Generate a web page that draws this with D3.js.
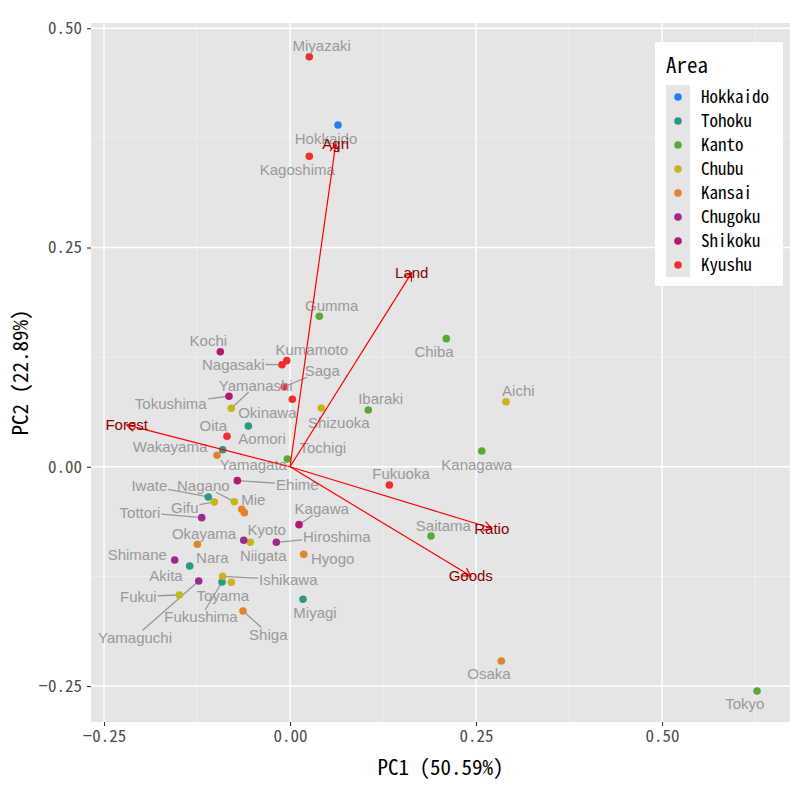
<!DOCTYPE html>
<html><head><meta charset="utf-8">
<script src="https://cdn.jsdelivr.net/npm/d3@7"></script>
<style>body{margin:0;background:#fff}</style>
</head><body><svg id="c" width="800" height="800"></svg>
<script>
// ---------- data ----------
const prefectures = ["Hokkaido","Aomori","Iwate","Miyagi","Akita","Yamagata","Fukushima","Ibaraki","Tochigi","Gumma","Saitama","Chiba","Tokyo","Kanagawa","Niigata","Toyama","Ishikawa","Fukui","Yamanashi","Nagano","Gifu","Shizuoka","Aichi","Mie","Shiga","Kyoto","Osaka","Hyogo","Nara","Wakayama","Tottori","Shimane","Okayama","Hiroshima","Yamaguchi","Tokushima","Kagawa","Ehime","Kochi","Fukuoka","Saga","Nagasaki","Kumamoto","Oita","Miyazaki","Kagoshima","Okinawa"];
const areas = ["Hokkaido","Tohoku","Tohoku","Tohoku","Tohoku","Tohoku","Tohoku","Kanto","Kanto","Kanto","Kanto","Kanto","Kanto","Kanto","Chubu","Chubu","Chubu","Chubu","Chubu","Chubu","Chubu","Chubu","Chubu","Kansai","Kansai","Kansai","Kansai","Kansai","Kansai","Kansai","Chugoku","Chugoku","Chugoku","Chugoku","Chugoku","Shikoku","Shikoku","Shikoku","Shikoku","Kyushu","Kyushu","Kyushu","Kyushu","Kyushu","Kyushu","Kyushu","Kyushu"];
const pc1 = [0.0645,-0.0560,-0.1098,0.0175,-0.1348,-0.0905,-0.0914,0.1052,-0.0036,0.0394,0.1895,0.2101,0.6277,0.2577,-0.0534,-0.0789,-0.0905,-0.1488,-0.0789,-0.0749,-0.1017,0.0421,0.2903,-0.0649,-0.0632,-0.0614,0.2840,0.0184,-0.1246,-0.0981,-0.1187,-0.1550,-0.0622,-0.0184,-0.1227,-0.0820,0.0121,-0.0708,-0.0937,0.1335,-0.0077,-0.0108,-0.0044,-0.0847,0.0259,0.0259,0.0031];
const pc2 = [0.3897,0.0465,-0.0344,-0.1511,-0.1131,0.0195,-0.1314,0.0648,0.0089,0.1716,-0.0789,0.1461,-0.2556,0.0180,-0.0861,-0.1317,-0.1249,-0.1462,0.0667,-0.0398,-0.0401,0.0670,0.0742,-0.0485,-0.1644,-0.0523,-0.2214,-0.0998,-0.0884,0.0131,-0.0580,-0.1063,-0.0838,-0.0861,-0.1302,0.0804,-0.0660,-0.0158,0.1312,-0.0208,0.0913,0.1164,0.1210,0.0348,0.4676,0.3540,0.0770];

const areaLevels = ["Hokkaido","Tohoku","Kanto","Chubu","Kansai","Chugoku","Shikoku","Kyushu"];
const areaColors = ["#2081F0","#2A9A86","#58AA34","#C8B41E","#E0852A","#A0298E","#B21A70","#F02E2C"];

const variables = ["Agri","Land","Forest","Ratio","Goods"];
const loadX = [0.0614,0.1636,-0.2195,0.2711,0.2429];
const loadY = [0.3681,0.2213,0.0477,-0.0701,-0.1245];

const xTicks = [-0.25,0,0.25,0.5];
const yTicks = [-0.25,0,0.25,0.5];
const xMinor = [-0.125,0.125,0.375,0.625];
const yMinor = [-0.125,0.125,0.375];
const xTitle = "PC1 (50.59%)";
const yTitle = "PC2 (22.89%)";
const legendTitle = "Area";

// label placement (repelled positions, pixel offsets from the point)
const labelOffsets = {
 Hokkaido:[-12,14],Aomori:[13.7,12.7],Iwate:[-59,-11],Miyagi:[12,13],Akita:[-23.7,10],Yamagata:[30.6,14.6],
 Fukushima:[-21,34.7],Ibaraki:[12.4,-11.3],Tochigi:[35.4,-11.3],Gumma:[12.4,-11],Saitama:[12.3,-10.7],
 Chiba:[-12.3,13],Tokyo:[-12.3,13],Kanagawa:[-5,14],Niigata:[13,13.7],Toyama:[-8.6,13.7],Ishikawa:[65.6,3.7],
 Fukui:[-41,1.7],Yamanashi:[24.4,-22.6],Nagano:[-31,-15.7],Gifu:[-29.6,5.7],Shizuoka:[17.4,15],Aichi:[12.3,-11],
 Mie:[11.6,-10],Shiga:[25.3,23.3],Kyoto:[22.4,17.3],Osaka:[-12.3,13],Hyogo:[29,4],Nara:[15,13.4],
 Wakayama:[-47,-8.6],Tottori:[-61.7,-5],Shimane:[-37.4,-5],Okayama:[-39.7,-7],Hiroshima:[60.4,-5.6],
 Yamaguchi:[-63.7,56.3],Tokushima:[-58.3,7.4],Kagawa:[22.7,-15.7],Ehime:[60,4.3],Kochi:[-12,-10.7],
 Fukuoka:[11.7,-11],Saga:[38,-15.7],Nagasaki:[-48.7,-0.4],Kumamoto:[25,-10.7],Oita:[-13.7,-10.3],
 Miyazaki:[12.4,-10.7],Kagoshima:[-12,13.7],Okinawa:[-25,13.4]
};
const leaderLines = ["Kagawa","Hiroshima","Nagasaki","Saga","Tokushima","Yamanashi","Ehime","Iwate","Gifu","Nagano","Tottori","Ishikawa","Fukushima","Yamaguchi","Fukui","Shiga"];

// ---------- layout ----------
const P = {left:91, right:790, top:23, bottom:722};
const x = d3.scaleLinear().domain([-0.2675, 0.6720]).range([P.left, P.right]);
const y = d3.scaleLinear().domain([-0.2910, 0.5060]).range([P.bottom, P.top]);
const color = d3.scaleOrdinal().domain(areaLevels).range(areaColors);
const monoFont = "'Noto Sans Mono CJK JP','Noto Sans CJK JP',monospace";
const sansFont = "'Liberation Sans',Arial,sans-serif";

const svg = d3.select("#c");
svg.append("rect").attr("width",800).attr("height",800).attr("fill","#fff");
svg.append("rect").attr("x",P.left).attr("y",P.top).attr("width",P.right-P.left).attr("height",P.bottom-P.top).attr("fill","#E5E5E5");

const grid = svg.append("g");
grid.selectAll(".xm").data(xMinor).join("line").attr("x1",d=>x(d)).attr("x2",d=>x(d)).attr("y1",P.top).attr("y2",P.bottom).attr("stroke","#F2F2F2").attr("stroke-width",0.7);
grid.selectAll(".ym").data(yMinor).join("line").attr("class","ym").attr("y1",d=>y(d)).attr("y2",d=>y(d)).attr("x1",P.left).attr("x2",P.right).attr("stroke","#F2F2F2").attr("stroke-width",0.7);
grid.selectAll(".xg").data(xTicks).join("line").attr("class","xg").attr("x1",d=>x(d)).attr("x2",d=>x(d)).attr("y1",P.top).attr("y2",P.bottom).attr("stroke","#fff").attr("stroke-width",1.4);
grid.selectAll(".yg").data(yTicks).join("line").attr("class","yg").attr("y1",d=>y(d)).attr("y2",d=>y(d)).attr("x1",P.left).attr("x2",P.right).attr("stroke","#fff").attr("stroke-width",1.4);

// axes
const fmt = d3.format(".2f");
const xAxis = svg.append("g").attr("transform",`translate(0,${P.bottom})`)
  .call(d3.axisBottom(x).tickValues(xTicks).tickSize(4).tickPadding(4).tickFormat(d=>fmt(d).replace("-","\u2212")));
const yAxis = svg.append("g").attr("transform",`translate(${P.left},0)`)
  .call(d3.axisLeft(y).tickValues(yTicks).tickSize(4).tickPadding(5).tickFormat(d=>fmt(d).replace("-","\u2212")));
[xAxis,yAxis].forEach(a=>{
  a.select(".domain").remove();
  a.selectAll(".tick line").attr("stroke","#333").attr("stroke-width",1.1);
  a.selectAll(".tick text").attr("fill","#4D4D4D").style("font-family",monoFont).style("font-size","17px");
});

svg.append("text").attr("x",(P.left+P.right)/2).attr("y",775).attr("text-anchor","middle")
  .style("font-family",monoFont).style("font-size","21px").attr("fill","#000").text(xTitle);
svg.append("text").attr("transform",`translate(28,${(P.top+P.bottom)/2}) rotate(-90)`).attr("text-anchor","middle")
  .style("font-family",monoFont).style("font-size","21px").attr("fill","#000").text(yTitle);

// data rows
const rows = prefectures.map((n,i)=>({name:n, area:areas[i], px:x(pc1[i]), py:y(pc2[i])}));

const segG = svg.append("g");
const ptG = svg.append("g");
const lblG = svg.append("g");

ptG.selectAll("circle").data(rows).join("circle")
  .attr("cx",d=>d.px).attr("cy",d=>d.py).attr("r",3.8).attr("fill",d=>color(d.area));

const labels = lblG.selectAll("text").data(rows).join("text")
  .attr("x",d=>d.px+labelOffsets[d.name][0]).attr("y",d=>d.py+labelOffsets[d.name][1])
  .attr("dy","0.35em").attr("text-anchor","middle")
  .style("font-family",sansFont).style("font-size","15px").attr("fill","#999999").text(d=>d.name);

labels.each(function(d){
  if(!leaderLines.includes(d.name)) return;
  const b = this.getBBox();
  const cx = b.x+b.width/2, cy = b.y+b.height/2;
  const hw = b.width/2+1, hh = b.height/2-2;
  const dx = d.px-cx, dy = d.py-cy;
  const t = Math.min(dx!==0?hw/Math.abs(dx):Infinity, dy!==0?hh/Math.abs(dy):Infinity);
  segG.append("line").attr("x1",d.px).attr("y1",d.py).attr("x2",cx+dx*t).attr("y2",cy+dy*t)
    .attr("stroke","#999999").attr("stroke-width",1.3);
});

// loadings arrows
const arrG = svg.append("g");
const ox = x(0), oy = y(0);
variables.forEach((v,i)=>{
  const tx = x(loadX[i]), ty = y(loadY[i]);
  const ang = Math.atan2(ty-oy, tx-ox);
  const L = 9, a = Math.PI/6;
  arrG.append("line").attr("x1",ox).attr("y1",oy).attr("x2",tx).attr("y2",ty).attr("stroke","#FF0000").attr("stroke-width",1.2);
  arrG.append("path").attr("d",`M${tx-L*Math.cos(ang-a)},${ty-L*Math.sin(ang-a)}L${tx},${ty}L${tx-L*Math.cos(ang+a)},${ty-L*Math.sin(ang+a)}`)
    .attr("fill","none").attr("stroke","#FF0000").attr("stroke-width",1.2);
});
arrG.selectAll("text").data(variables).join("text")
  .attr("x",(d,i)=>x(loadX[i])).attr("y",(d,i)=>y(loadY[i])).attr("dy","0.35em").attr("text-anchor","middle")
  .style("font-family",sansFont).style("font-size","15px").attr("fill","#8B0000").text(d=>d);

// legend
const lg = svg.append("g");
lg.append("rect").attr("x",655).attr("y",42).attr("width",128).attr("height",244).attr("fill","#fff");
lg.append("text").attr("x",666).attr("y",73).style("font-family",monoFont).style("font-size","21px").attr("fill","#000").text(legendTitle);
lg.append("rect").attr("x",666).attr("y",85).attr("width",24).attr("height",24*areaLevels.length).attr("fill","#E5E5E5");
lg.selectAll("circle").data(areaLevels).join("circle").attr("cx",678).attr("cy",(d,i)=>97+i*24).attr("r",3.8).attr("fill",d=>color(d));
lg.selectAll(".lt").data(areaLevels).join("text").attr("class","lt").attr("x",701).attr("y",(d,i)=>97+i*24).attr("dy","0.35em")
  .style("font-family",monoFont).style("font-size","17px").attr("fill","#000").text(d=>d);
</script></body></html>
